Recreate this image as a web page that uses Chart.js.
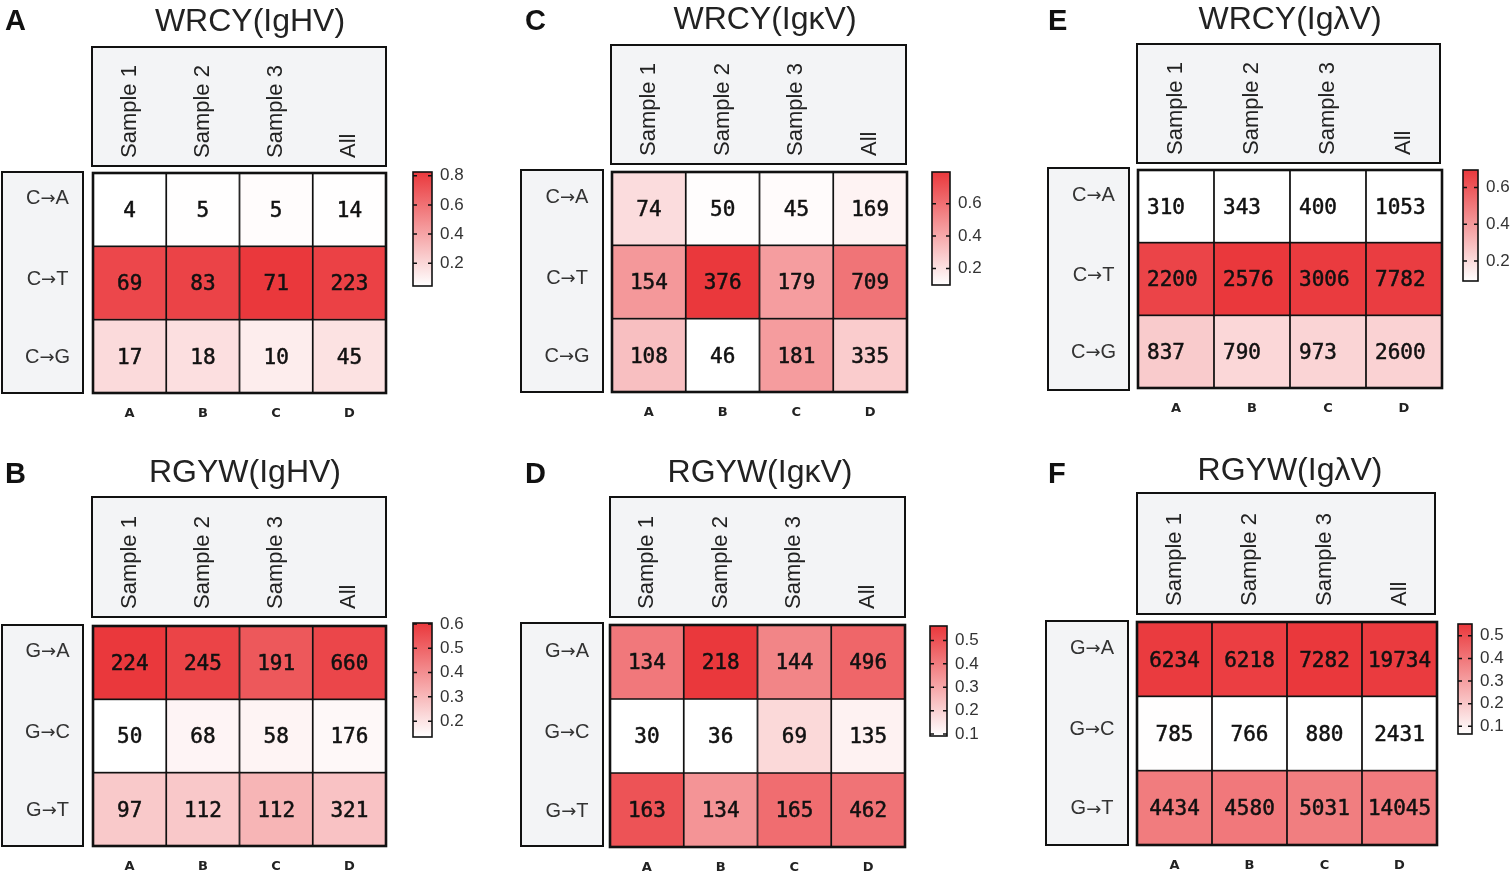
<!DOCTYPE html>
<html>
<head>
<meta charset="utf-8">
<script src="https://cdn.jsdelivr.net/npm/chart.js@4"></script>
<style>
  body { margin: 0; background: #fff; }
  #wrap { position: relative; width: 1510px; height: 875px; }
  #wrap canvas { position: absolute; left: 0; top: 0; }
</style>
</head>
<body>
<div id="wrap"></div>
<script>
// values
const colLetters = ['A', 'B', 'C', 'D'];
const sampleNames = ['Sample 1', 'Sample 2', 'Sample 3', 'All'];
const rowsWRCY = ['C→A', 'C→T', 'C→G'];
const rowsRGYW = ['G→A', 'G→C', 'G→T'];

const wrcyHV = [[4, 5, 5, 14], [69, 83, 71, 223], [17, 18, 10, 45]];
const rgywHV = [[224, 245, 191, 660], [50, 68, 58, 176], [97, 112, 112, 321]];
const wrcyKV = [[74, 50, 45, 169], [154, 376, 179, 709], [108, 46, 181, 335]];
const rgywKV = [[134, 218, 144, 496], [30, 36, 69, 135], [163, 134, 165, 462]];
const wrcyLV = [[310, 343, 400, 1053], [2200, 2576, 3006, 7782], [837, 790, 973, 2600]];
const rgywLV = [[6234, 6218, 7282, 19734], [785, 766, 880, 2431], [4434, 4580, 5031, 14045]];

const ticksA = [0.2, 0.4, 0.6, 0.8];
const ticksB = [0.2, 0.3, 0.4, 0.5, 0.6];
const ticksC = [0.2, 0.4, 0.6];
const ticksD = [0.1, 0.2, 0.3, 0.4, 0.5];
const ticksE = [0.2, 0.4, 0.6];
const ticksF = [0.1, 0.2, 0.3, 0.4, 0.5];

const RED = [234, 56, 60];
const ROW_LABEL_SHIFT = [-11, -4, 1];

// share of each mutation within its column -> colour
const colShares = (m) => m.map((row, r) => row.map((v, c) => v / (m[0][c] + m[1][c] + m[2][c])));
const mix = (t) => {
    t = Math.max(0, Math.min(1, t));
    const ch = RED.map(x => Math.round(255 + (x - 255) * t));
    return `rgb(${ch[0]},${ch[1]},${ch[2]})`;
};

const panels = [
    { letter: 'A', title: 'WRCY(IgHV)', rows: rowsWRCY, data: wrcyHV, ticks: ticksA, align: 'center',
      letterXY: [5, 22], titleXY: [250, 22], head: [92, 47, 386, 166], rowBox: [2, 172, 83, 393],
      grid: [93, 173, 386, 393], cb: [413, 172, 432, 286] },
    { letter: 'B', title: 'RGYW(IgHV)', rows: rowsRGYW, data: rgywHV, ticks: ticksB, align: 'center',
      letterXY: [5, 475], titleXY: [245, 473], head: [92, 497, 386, 617], rowBox: [2, 625, 83, 846],
      grid: [93, 626, 386, 846], cb: [413, 623, 432, 737] },
    { letter: 'C', title: 'WRCY(IgκV)', rows: rowsWRCY, data: wrcyKV, ticks: ticksC, align: 'center',
      letterXY: [525, 22], titleXY: [765, 20], head: [611, 45, 906, 164], rowBox: [521, 170, 603, 392],
      grid: [612, 172, 907, 392], cb: [932, 172, 950, 285] },
    { letter: 'D', title: 'RGYW(IgκV)', rows: rowsRGYW, data: rgywKV, ticks: ticksD, align: 'center',
      letterXY: [525, 475], titleXY: [760, 473], head: [610, 497, 905, 617], rowBox: [521, 623, 603, 846],
      grid: [610, 625, 905, 847], cb: [930, 626, 947, 736] },
    { letter: 'E', title: 'WRCY(IgλV)', rows: rowsWRCY, data: wrcyLV, ticks: ticksE, align: 'left',
      letterXY: [1048, 22], titleXY: [1290, 20], head: [1137, 44, 1440, 163], rowBox: [1048, 168, 1129, 390],
      grid: [1138, 170, 1442, 388], cb: [1463, 170, 1478, 281] },
    { letter: 'F', title: 'RGYW(IgλV)', rows: rowsRGYW, data: rgywLV, ticks: ticksF, align: 'center',
      letterXY: [1048, 475], titleXY: [1290, 471], head: [1137, 493, 1435, 614], rowBox: [1046, 621, 1128, 845],
      grid: [1137, 622, 1437, 845], cb: [1458, 624, 1472, 734] }
];

// "C→A": letters in Liberation Sans, a longer arrow from DejaVu Sans
function drawMutLabel(ctx, label, cx, y) {
    const [a, b] = label.split('→');
    const fLetter = '20px "Liberation Sans", Arial, sans-serif';
    const fArrow = '18px "DejaVu Sans", sans-serif';
    ctx.font = fLetter;
    const wa = ctx.measureText(a).width, wb = ctx.measureText(b).width;
    ctx.font = fArrow;
    const wArr = ctx.measureText('→').width;
    let x = cx - (wa + wArr + wb) / 2;
    ctx.textAlign = 'left';
    ctx.font = fLetter;
    ctx.fillText(a, x, y);
    x += wa;
    ctx.font = fArrow;
    ctx.fillText('→', x, y + 1);
    x += wArr;
    ctx.font = fLetter;
    ctx.fillText(b, x, y);
}

const decorPlugin = {
    id: 'decor',
    afterDraw(chart) {
        const p = chart.options.plugins.decor.panel;
        const ctx = chart.ctx;
        const xs = chart.scales.x;
        const ys = chart.scales.y;
        const shares = colShares(p.data);
        const flat = shares.flat();
        const lo = Math.min(...flat), hi = Math.max(...flat);
        ctx.save();

        // panel letter + title
        ctx.fillStyle = '#111';
        ctx.textBaseline = 'middle';
        ctx.textAlign = 'left';
        ctx.font = 'bold 29px "Liberation Sans", Arial, sans-serif';
        ctx.fillText(p.letter, p.letterXY[0], p.letterXY[1]);
        ctx.textAlign = 'center';
        ctx.font = '32px "Liberation Sans", Arial, sans-serif';
        ctx.fillStyle = '#222';
        ctx.fillText(p.title, p.titleXY[0], p.titleXY[1]);

        // header box with sample names
        const [hx0, hy0, hx1, hy1] = p.head;
        ctx.fillStyle = '#f3f4f6';
        ctx.fillRect(hx0, hy0, hx1 - hx0, hy1 - hy0);
        ctx.lineWidth = 2;
        ctx.strokeStyle = '#111';
        ctx.strokeRect(hx0, hy0, hx1 - hx0, hy1 - hy0);
        ctx.font = '22px "Liberation Sans", Arial, sans-serif';
        ctx.fillStyle = '#222';
        sampleNames.forEach((s, i) => {
            const x = xs.getPixelForValue(i);
            ctx.save();
            ctx.translate(x, hy1 - 8);
            ctx.rotate(-Math.PI / 2);
            ctx.textAlign = 'left';
            ctx.textBaseline = 'middle';
            ctx.fillText(s, 0, 0);
            ctx.restore();
        });

        // row label box
        const [rx0, ry0, rx1, ry1] = p.rowBox;
        ctx.fillStyle = '#f3f4f6';
        ctx.fillRect(rx0, ry0, rx1 - rx0, ry1 - ry0);
        ctx.strokeRect(rx0, ry0, rx1 - rx0, ry1 - ry0);
        ctx.fillStyle = '#333';
        p.rows.forEach((r, i) => {
            const y = ys.getPixelForValue(i + 0.5) + ROW_LABEL_SHIFT[i];
            drawMutLabel(ctx, r, (rx0 + rx1) / 2 + 5, y);
        });

        // cell numbers
        ctx.font = '21px "DejaVu Sans Mono", monospace';
        ctx.fillStyle = '#111';
        ctx.strokeStyle = '#111';
        ctx.lineWidth = 0.5;
        chart.data.datasets.forEach((ds, r) => {
            const meta = chart.getDatasetMeta(r);
            const y = ys.getPixelForValue(r + 0.5) + 2;
            meta.data.forEach((bar, c) => {
                const txt = String(p.data[r][c]);
                let x;
                if (p.align === 'left') {
                    ctx.textAlign = 'left';
                    x = bar.x - bar.width / 2 + 9;
                } else {
                    ctx.textAlign = 'center';
                    x = bar.x;
                }
                ctx.fillText(txt, x, y);
                ctx.strokeText(txt, x, y);
            });
        });

        // thick outer frame
        const a = chart.chartArea;
        ctx.lineWidth = 2.6;
        ctx.strokeStyle = '#111';
        ctx.strokeRect(a.left, a.top, a.right - a.left, a.bottom - a.top);

        // colour bar
        const [cx0, cy0, cx1, cy1] = p.cb;
        const g = ctx.createLinearGradient(0, cy0, 0, cy1);
        g.addColorStop(0, mix(1));
        g.addColorStop(1, mix(0));
        ctx.fillStyle = g;
        ctx.fillRect(cx0, cy0, cx1 - cx0, cy1 - cy0);
        ctx.lineWidth = 1.6;
        ctx.strokeRect(cx0, cy0, cx1 - cx0, cy1 - cy0);
        const yOf = v => cy0 + (hi - v) / (hi - lo) * (cy1 - cy0);
        ctx.font = '17px "Liberation Sans", Arial, sans-serif';
        ctx.fillStyle = '#333';
        ctx.textAlign = 'left';
        ctx.lineWidth = 1.5;
        p.ticks.forEach(t => {
            const y = Math.min(cy1 - 1, Math.max(cy0 + 1, yOf(t)));
            ctx.beginPath();
            ctx.moveTo(cx0, y); ctx.lineTo(cx0 + 4, y);
            ctx.moveTo(cx1 - 4, y); ctx.lineTo(cx1, y);
            ctx.stroke();
            ctx.fillText(t.toFixed(1), cx1 + 8, y);
        });
        ctx.restore();
    }
};

const wrap = document.getElementById('wrap');
panels.forEach(p => {
    const canvas = document.createElement('canvas');
    canvas.width = 1510;
    canvas.height = 875;
    wrap.appendChild(canvas);
    const shares = colShares(p.data);
    const flat = shares.flat();
    const lo = Math.min(...flat), hi = Math.max(...flat);
    const datasets = p.rows.map((r, i) => ({
        label: r,
        data: colLetters.map(() => [i, i + 1]),
        backgroundColor: shares[i].map(s => mix((s - lo) / (hi - lo))),
        borderColor: '#111',
        borderWidth: 1.2,
        borderSkipped: false,
        barPercentage: 1,
        categoryPercentage: 1
    }));
    const [gx0, gy0, gx1, gy1] = p.grid;
    new Chart(canvas.getContext('2d'), {
        type: 'bar',
        data: { labels: colLetters, datasets: datasets },
        options: {
            responsive: false,
            animation: false,
            devicePixelRatio: 1,
            layout: { padding: { left: gx0, right: 1510 - gx1, top: gy0, bottom: 875 - gy1 - 40 } },
            plugins: { legend: { display: false }, tooltip: { enabled: false }, decor: { panel: p } },
            scales: {
                x: {
                    stacked: true,
                    grid: { display: false, drawTicks: false },
                    border: { display: false },
                    ticks: { padding: 13, color: '#222', font: { family: '"DejaVu Sans"', size: 13, weight: 'bold' } },
                    afterFit: s => { s.height = 40; }
                },
                y: { type: 'linear', min: 0, max: 3, reverse: true, display: false, stacked: false }
            }
        },
        plugins: [decorPlugin]
    });
});
</script>
</body>
</html>
